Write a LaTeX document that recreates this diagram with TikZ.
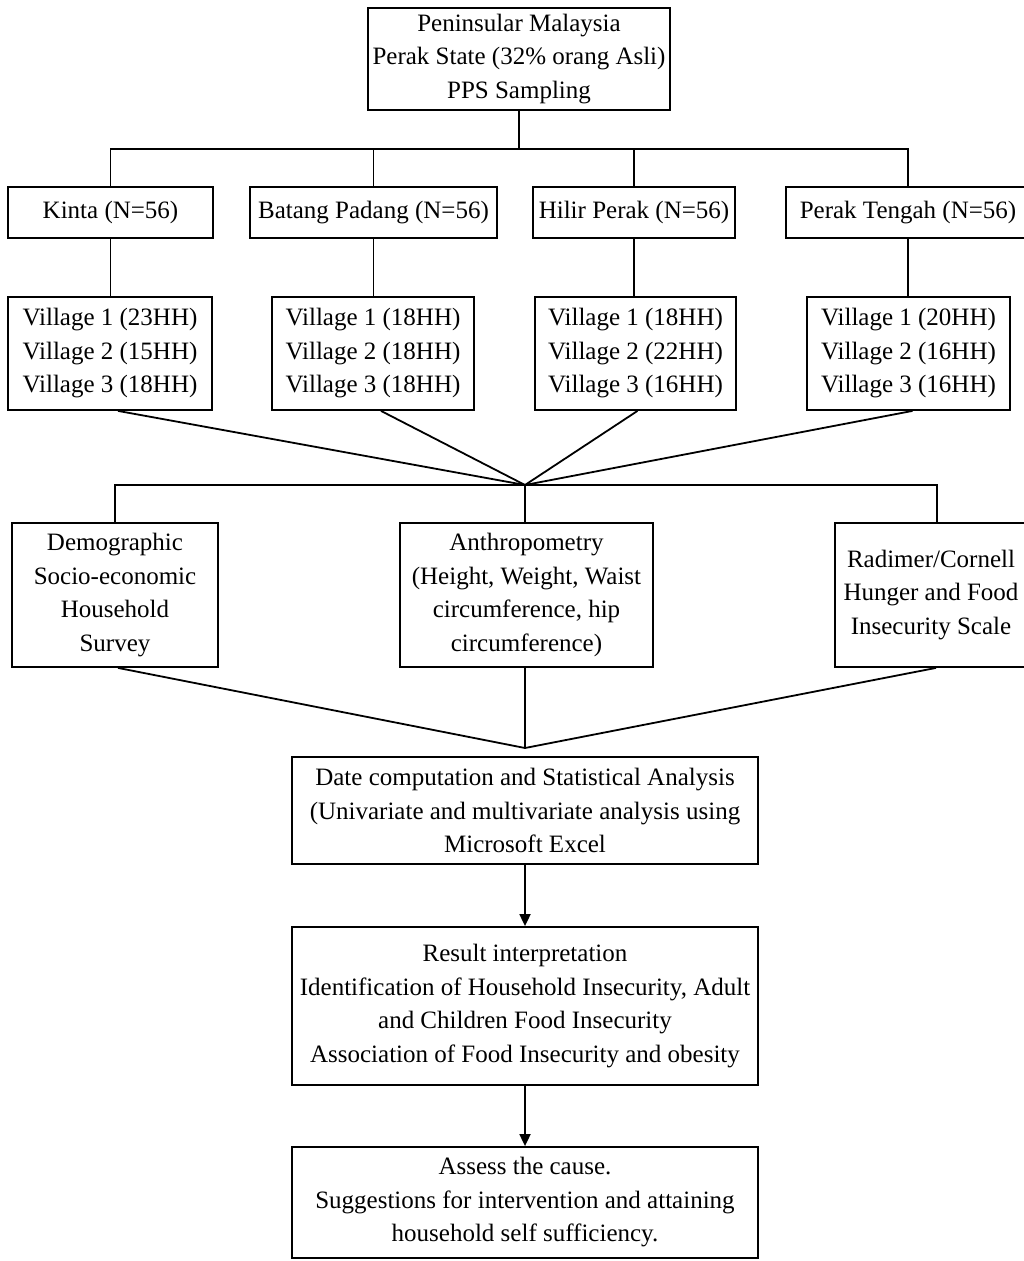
\documentclass[tikz,border=0pt]{standalone}
\usepackage{fontspec}
\setmainfont{Liberation Serif}
\usetikzlibrary{arrows.meta}
\begin{document}
\begin{tikzpicture}[x=1pt,y=-1pt,
  box/.style={draw, line width=1.8pt, rectangle, inner sep=0pt, align=center,
    font=\fontsize{25}{33.5}\selectfont},
  conn/.style={line width=1.8pt},
  arr/.style={conn, -{Triangle[width=11pt,length=12pt]}}]
\useasboundingbox (0,0) rectangle (1024,1261);
% top
\node[box, minimum width=302pt, minimum height=102pt] (top) at (519,59)
  {Peninsular Malaysia\\Perak State (32\% orang Asli)\\PPS Sampling};
% districts
\node[box, minimum width=205pt, minimum height=51pt] (kinta) at (110.5,212.5) {Kinta (N=56)};
\node[box, minimum width=247pt, minimum height=51pt] (batang) at (373.5,212.5) {Batang Padang (N=56)};
\node[box, minimum width=202pt, minimum height=51pt] (hilir) at (634,212.5) {Hilir Perak (N=56)};
\node[box, minimum width=244pt, minimum height=51pt] (tengah) at (908,212.5) {Perak Tengah (N=56)};
% villages
\node[box, minimum width=204pt, minimum height=113pt] (v1) at (110,353.5)
  {Village 1 (23HH)\\Village 2 (15HH)\\Village 3 (18HH)};
\node[box, minimum width=202pt, minimum height=113pt] (v2) at (373,353.5)
  {Village 1 (18HH)\\Village 2 (18HH)\\Village 3 (18HH)};
\node[box, minimum width=201pt, minimum height=113pt] (v3) at (635.5,353.5)
  {Village 1 (18HH)\\Village 2 (22HH)\\Village 3 (16HH)};
\node[box, minimum width=203pt, minimum height=113pt] (v4) at (908.5,353.5)
  {Village 1 (20HH)\\Village 2 (16HH)\\Village 3 (16HH)};
% instruments
\node[box, minimum width=206pt, minimum height=144pt] (demo) at (115,595)
  {Demographic\\Socio-economic\\Household\\Survey};
\node[box, minimum width=253pt, minimum height=144pt] (anthro) at (526.5,595)
  {Anthropometry\\(Height, Weight, Waist\\circumference, hip\\circumference)};
\node[box, minimum width=192pt, minimum height=144pt] (radimer) at (931,595)
  {Radimer/Cornell\\Hunger and Food\\Insecurity Scale};
% analysis
\node[box, minimum width=466pt, minimum height=107pt] (date) at (525,810.5)
  {Date computation and Statistical Analysis\\(Univariate and multivariate analysis using\\Microsoft Excel};
\node[box, minimum width=466pt, minimum height=158pt] (result) at (525,1006)
  {Result interpretation\\Identification of Household Insecurity, Adult\\and Children Food Insecurity\\Association of Food Insecurity and obesity};
\node[box, minimum width=466pt, minimum height=111pt] (assess) at (525,1202.5)
  {Assess the cause.\\Suggestions for intervention and attaining\\household self sufficiency.};
% coordinates
\coordinate (bus1) at (519,149);
\coordinate (conv1) at (525,485);
\coordinate (conv2) at (525,748);
% connectors top -> districts
\draw[conn] (top.south) -- (bus1);
\draw[conn] (kinta.north) |- (bus1) -| (tengah.north);
\draw[conn] (batang.north) -- (batang.north |- bus1);
\draw[conn] (hilir.north) -- (hilir.north |- bus1);
% districts -> villages
\draw[conn] (kinta.south) -- (kinta.south |- v1.north);
\draw[conn] (batang.south) -- (batang.south |- v2.north);
\draw[conn] (hilir.south) -- (hilir.south |- v3.north);
\draw[conn] (tengah.south) -- (tengah.south |- v4.north);
% villages -> convergence
\draw[conn] ([xshift=8pt]v1.south) -- (conv1);
\draw[conn] ([xshift=8pt]v2.south) -- (conv1);
\draw[conn] ([xshift=2pt]v3.south) -- (conv1);
\draw[conn] ([xshift=4pt]v4.south) -- (conv1);
% convergence -> instruments
\draw[conn] (demo.north) |- (conv1) -| ([xshift=6pt]radimer.north);
\draw[conn] (conv1) -- (conv1 |- anthro.north);
% instruments -> convergence 2
\draw[conn] ([xshift=3pt]demo.south) -- (conv2);
\draw[conn] (conv2 |- anthro.south) -- (conv2);
\draw[conn] ([xshift=5pt]radimer.south) -- (conv2);
% arrows
\draw[arr] (date.south) -- (result.north);
\draw[arr] (result.south) -- (assess.north);
\end{tikzpicture}
\end{document}
